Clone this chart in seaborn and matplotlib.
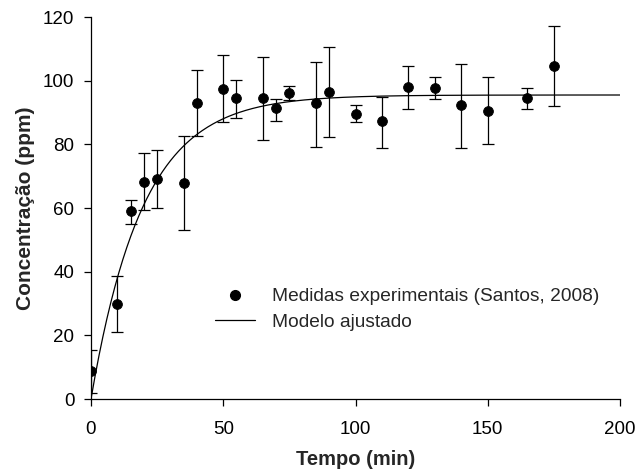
import numpy as np
import pandas as pd
import matplotlib
matplotlib.use("Agg")
import matplotlib.pyplot as plt
import seaborn as sns
from matplotlib.lines import Line2D

# Experimental data (Santos, 2008)
tempo = [0, 10, 15, 20, 25, 35, 40, 50, 55, 65, 70, 75, 85, 90, 100, 110, 120, 130, 140, 150, 165, 175]
conc = [8.8, 30, 59, 68.3, 69.2, 68, 93, 97.5, 94.5, 94.5, 91.3, 96, 93, 96.5, 89.5, 87.2, 98, 97.8, 92.3, 90.5, 94.5, 104.5]
err_low = [2, 21, 55, 59.3, 60, 53, 82.5, 87, 88.3, 81.5, 87.2, 93.8, 79.3, 82.3, 87, 78.8, 91, 94.2, 79, 80.2, 91, 92]
err_high = [15.5, 38.7, 62.5, 77.3, 78.3, 82.7, 103.2, 108, 100.3, 107.3, 94.3, 98.3, 106, 110.6, 92.3, 95, 104.5, 101.2, 105.2, 101, 97.7, 117.3]

# Fitted model parameters: C = Cmax * (1 - exp(-k t))
c_max = 95.5
k_rate = 0.051
t_model_max = 200

df = pd.DataFrame({"tempo": tempo, "conc": conc})
t_fit = np.linspace(0, t_model_max, 400)
model_df = pd.DataFrame({"tempo": t_fit, "conc": c_max * (1 - np.exp(-k_rate * t_fit))})

sns.set_style("ticks")
plt.rcParams["font.family"] = ["Liberation Sans", "DejaVu Sans"]

fig = plt.figure(figsize=(6.38, 4.73), dpi=100)
ax = fig.add_axes([91 / 638, 74 / 473, (620 - 91) / 638, (399 - 17) / 473])

yerr = np.array([np.array(conc) - np.array(err_low), np.array(err_high) - np.array(conc)])
ax.errorbar(tempo, conc, yerr=yerr, fmt="none", ecolor="black", elinewidth=0.9, capsize=4.5, capthick=0.9, zorder=2)
sns.lineplot(data=model_df, x="tempo", y="conc", ax=ax, color="black", linewidth=0.9, zorder=3)
sns.scatterplot(data=df, x="tempo", y="conc", ax=ax, color="black", s=50, edgecolor="black", zorder=4)

ax.set_xlim(0, 200)
ax.set_ylim(0, 120)
ax.set_xticks([0, 50, 100, 150, 200])
ax.set_yticks([0, 20, 40, 60, 80, 100, 120])
ax.tick_params(axis="both", direction="out", length=5, width=0.9, labelsize=13.5, color="black", labelcolor="black")
ax.tick_params(axis="x", pad=10.5)
ax.tick_params(axis="y", pad=7)
for s in ["left", "bottom"]:
    ax.spines[s].set_linewidth(0.9)
    ax.spines[s].set_color("black")
sns.despine(ax=ax)

ax.set_xlabel("Tempo (min)", fontsize=14.5, fontweight="bold", labelpad=9)
ax.set_ylabel("Concentração (ppm)", fontsize=15, fontweight="bold", labelpad=5.5)

handles = [
    Line2D([], [], marker="o", color="black", linestyle="none", markersize=7),
    Line2D([], [], color="black", linewidth=0.9),
]
ax.legend(handles, ["Medidas experimentais (Santos, 2008)", "Modelo ajustado"],
          loc="upper left", bbox_to_anchor=((215 - 91) / 529, (399 - 288) / 382), frameon=False, fontsize=13.8,
          handlelength=2.1, handletextpad=0.85, labelspacing=0.4, borderaxespad=0, borderpad=0)

fig.savefig("out.png", dpi=100)
